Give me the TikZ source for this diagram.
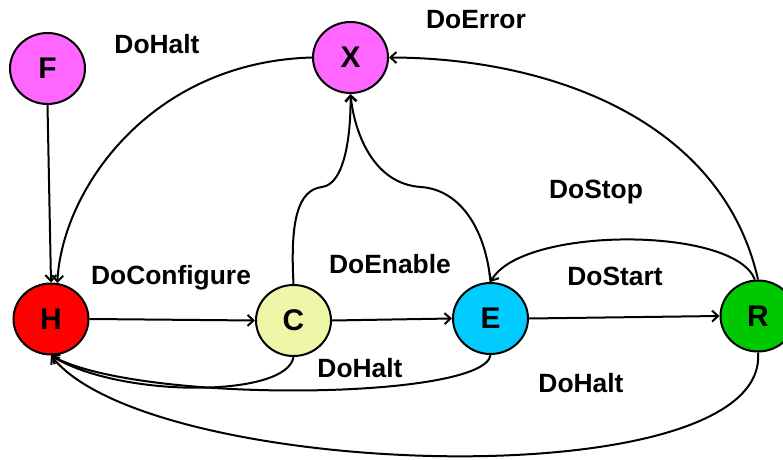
\documentclass[tikz,border=0pt]{standalone}
\usepackage{fontspec}
\setmainfont{Liberation Sans}
\usetikzlibrary{shapes.geometric,arrows.meta}

\definecolor{stMagenta}{HTML}{FF66FF}
\definecolor{stRed}{HTML}{FF0000}
\definecolor{stYellow}{HTML}{EEF7A8}
\definecolor{stCyan}{HTML}{00CCFF}
\definecolor{stGreen}{HTML}{00C800}

\begin{document}
\begin{tikzpicture}[x=1bp,y=-1bp,
  state/.style={ellipse,draw=black,line width=2bp,minimum width=75bp,minimum height=71bp,
    inner sep=0pt,font=\fontsize{30}{30}\selectfont\bfseries},
  lbl/.style={font=\fontsize{26.5}{26.5}\selectfont\bfseries,inner sep=0pt},
  edge/.style={line width=2bp,-{Straight Barb[length=6bp,width=11bp,line width=2bp]}}]
\useasboundingbox (0,0) rectangle (783,460);

% states
\node[state,fill=stMagenta] (F) at (47.5,68.5) {F};
\node[state,fill=stMagenta] (X) at (350.5,57.5) {X};
\node[state,fill=stRed]     (H) at (51,319) {H};
\node[state,fill=stYellow]  (C) at (293.5,320.5) {C};
\node[state,fill=stCyan]    (E) at (490.5,318.5) {E};
\node[state,fill=stGreen]   (R) at (758,316) {R};

% transition labels
\node[lbl] (lHaltTop) at (157,44) {DoHalt};
\node[lbl] (lError)   at (476,20) {DoError};
\node[lbl] (lStop)    at (596,192) {DoStop};
\node[lbl] (lConf)    at (171,278) {DoConfigure};
\node[lbl] (lEnable)  at (390,264) {DoEnable};
\node[lbl] (lStart)   at (615,276) {DoStart};
\node[lbl] (lHaltMid) at (360,368) {DoHalt};
\node[lbl] (lHaltBot) at (581,383) {DoHalt};

% forward chain
\draw[edge] (H.east) -- (C.west);
\draw[edge] (C.east) -- (E.west);
\draw[edge] (E.east) -- (R.west);

% initial halt
\draw[edge] (F.south) -- (H.north);

% error transitions
\draw[edge] (X.west) .. controls (150,62) and (62,190) .. (H.80);
\draw[edge] (C.north) .. controls (290,220) and (298,190) .. (322,187)
            .. controls (346,184) and (351,130) .. (X.south);
\draw[edge] (E.north) .. controls (486,232) and (462,190) .. (421,187)
            .. controls (372,184) and (354,130) .. (X.south);
\draw[edge] (R.north) .. controls (722,120) and (550,58) .. (X.east);

% stop: running back to enabled
\draw[edge] (R.95) .. controls (735,226) and (522,226) .. (E.north);

% halt transitions
\draw[edge] (C.south) .. controls (287,398) and (120,398) .. (H.south);
\draw[edge] (E.south) .. controls (485,400) and (140,404) .. (H.south);
\draw[edge] (R.south) .. controls (770,500) and (150,480) .. (H.south);
\end{tikzpicture}
\end{document}
